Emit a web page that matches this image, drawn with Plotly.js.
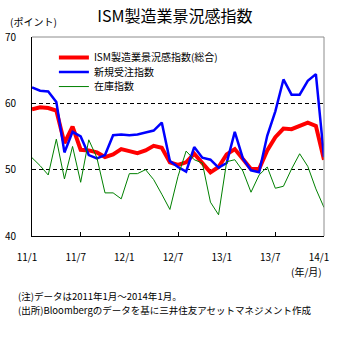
<!DOCTYPE html>
<html>
<head>
<meta charset="utf-8">
<script src="https://cdn.plot.ly/plotly-3.0.1.min.js"></script>
<style>
html,body{margin:0;padding:0;background:#fff;}
#chart{width:345px;height:337px;}
</style>
</head>
<body>
<div id="chart"></div>
<script>
// Months (year/month), Jan 2011 – Jan 2014
const months = [
  "11/1","11/2","11/3","11/4","11/5","11/6","11/7","11/8","11/9","11/10","11/11","11/12",
  "12/1","12/2","12/3","12/4","12/5","12/6","12/7","12/8","12/9","12/10","12/11","12/12",
  "13/1","13/2","13/3","13/4","13/5","13/6","13/7","13/8","13/9","13/10","13/11","13/12",
  "14/1"
];
const tickLabels = ["11/1","11/7","12/1","12/7","13/1","13/7","14/1"];
const yTicks = [40, 50, 60, 70];

const seriesNames = ["ISM製造業景況感指数(総合)", "新規受注指数", "在庫指数"];

const ismComposite = [
  59.1, 59.4, 59.3, 58.9, 54.0, 56.5, 53.0, 52.9, 52.6, 51.9, 52.3, 53.1,
  52.8, 52.5, 52.9, 53.6, 53.3, 51.1, 50.7, 51.1, 52.4, 51.1, 49.6, 50.4,
  52.3, 53.1, 51.6, 50.1, 50.1, 52.9, 54.9, 56.2, 56.1, 56.6, 57.1, 56.6,
  51.5
];
const newOrders = [
  62.4, 61.9, 61.8, 60.2, 52.6, 55.7, 55.0, 52.2, 51.7, 52.2, 55.2, 55.3,
  55.2, 55.3, 55.6, 55.9, 57.1, 51.3, 50.4, 49.7, 53.4, 51.8, 51.5, 50.3,
  51.0, 55.7, 51.7, 49.9, 49.6, 55.1, 58.8, 63.6, 61.3, 61.3, 63.4, 64.4,
  51.9
];
const inventories = [
  51.8, 50.6, 49.2, 54.6, 48.6, 53.5, 48.1, 54.5, 51.8, 46.5, 46.5, 45.6,
  49.4, 49.4, 50.0, 48.5, 46.3, 44.0, 49.0, 52.8, 51.5, 51.0, 45.1, 43.2,
  51.2, 51.5, 49.8, 46.6, 49.2, 50.4, 47.2, 47.5, 50.1, 52.4, 50.5, 47.1,
  44.3
];

const noteLines = [
  "(注)データは2011年1月～2014年1月。",
  "(出所)Bloombergのデータを基に三井住友アセットマネジメント作成"
];

const FONT = "Noto Sans CJK JP, sans-serif";

const traces = [
  {x: months, y: ismComposite, name: seriesNames[0], type: "scatter", mode: "lines",
   line: {color: "#ff0000", width: 4}, legend: "legend"},
  {x: months, y: newOrders, name: seriesNames[1], type: "scatter", mode: "lines",
   line: {color: "#0000ff", width: 2.5}, legend: "legend2"},
  {x: months, y: inventories, name: seriesNames[2], type: "scatter", mode: "lines",
   line: {color: "#008000", width: 1}, legend: "legend3"}
];

const legendBase = {
  bgcolor: "rgba(0,0,0,0)", borderwidth: 0, xanchor: "left", yanchor: "middle",
  font: {family: FONT, size: 10, color: "#000"}, tracegroupgap: 0
};

const layout = {
  width: 345, height: 337,
  margin: {l: 32, r: 21, t: 37, b: 101, pad: 0},
  paper_bgcolor: "#fff", plot_bgcolor: "#fff",
  font: {family: FONT, size: 10, color: "#000"},
  title: {text: "ISM製造業景況感指数", font: {family: FONT, size: 16, color: "#000"},
          x: 0.507, xref: "container", xanchor: "center",
          y: 0.952, yref: "container", yanchor: "middle"},
  showlegend: true,
  legend: Object.assign({}, legendBase, {x: 0.075, y: 0.897}),
  legend2: Object.assign({}, legendBase, {x: 0.075, y: 0.824}),
  legend3: Object.assign({}, legendBase, {x: 0.075, y: 0.751}),
  xaxis: {
    type: "category", range: [0, months.length - 1],
    tickvals: tickLabels, ticktext: tickLabels,
    ticks: "inside", ticklen: 4, tickcolor: "#000", tickwidth: 1,
    showline: true, linecolor: "#000", linewidth: 1,
    showgrid: false, zeroline: false,
    tickfont: {family: FONT, size: 10, color: "#000"},
    ticklabelshift: -5, ticklabelstandoff: 12
  },
  yaxis: {
    range: [40, 70], tickvals: yTicks, ticktext: yTicks.map(String),
    ticks: "", showline: true, linecolor: "#000", linewidth: 1,
    showgrid: true, gridcolor: "#000", gridwidth: 1, griddash: "4px,3px",
    zeroline: false,
    tickfont: {family: FONT, size: 10, color: "#000"},
    ticklabelstandoff: 13
  },
  shapes: [
    {type: "line", xref: "paper", yref: "paper", x0: 0, x1: 1, y0: 1, y1: 1,
     line: {color: "#8c8c8c", width: 1}, layer: "above"},
    {type: "line", xref: "paper", yref: "paper", x0: 1, x1: 1, y0: 0, y1: 1,
     line: {color: "#8c8c8c", width: 1}, layer: "above"}
  ],
  annotations: [
    {text: "(ポイント)", xref: "paper", yref: "paper", x: -0.082, y: 1.08,
     xanchor: "left", yanchor: "middle", showarrow: false,
     font: {family: FONT, size: 10, color: "#000"}},
    {text: "(年/月)", xref: "paper", yref: "paper", x: 1.0, y: -0.178,
     xanchor: "right", yanchor: "middle", showarrow: false,
     font: {family: FONT, size: 10, color: "#000"}},
    {text: noteLines[0], xref: "paper", yref: "paper", align: "left",
     x: -0.055, y: -0.302, xanchor: "left", yanchor: "middle", showarrow: false,
     font: {family: FONT, size: 9.5, color: "#000"}},
    {text: noteLines[1], xref: "paper", yref: "paper", align: "left",
     x: -0.055, y: -0.373, xanchor: "left", yanchor: "middle", showarrow: false,
     font: {family: FONT, size: 9.5, color: "#000"}}
  ]
};

Plotly.newPlot("chart", traces, layout, {staticPlot: true, displayModeBar: false});
</script>
</body>
</html>
